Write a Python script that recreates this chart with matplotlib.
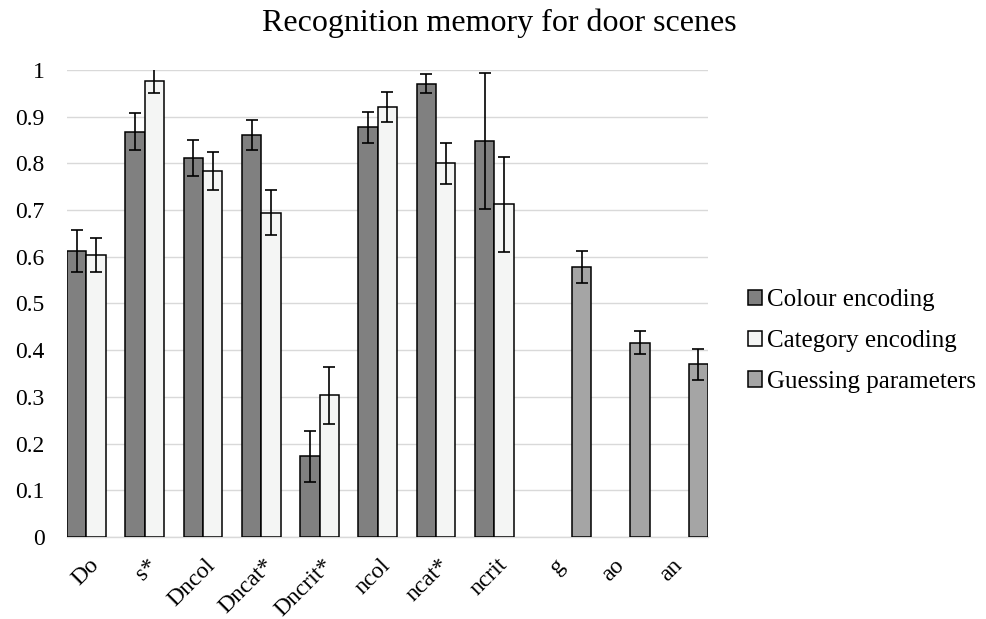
import numpy as np
import matplotlib.pyplot as plt

# values
categories = ['Do', 's*', 'Dncol', 'Dncat*', 'Dncrit*', 'ncol', 'ncat*', 'ncrit', 'g', 'ao', 'an']
colour_enc = [0.613, 0.868, 0.811, 0.861, 0.173, 0.877, 0.971, 0.848]
colour_err = [0.045, 0.039, 0.039, 0.032, 0.055, 0.033, 0.021, 0.146]
category_enc = [0.604, 0.977, 0.784, 0.694, 0.303, 0.921, 0.800, 0.712]
category_err = [0.036, 0.027, 0.040, 0.048, 0.060, 0.032, 0.044, 0.101]
guessing = [0.578, 0.416, 0.370]
guessing_err = [0.034, 0.025, 0.033]

plt.rcParams['font.family'] = ['Liberation Serif', 'DejaVu Serif']

fig = plt.figure(figsize=(9.87, 6.19), dpi=100)
ax = fig.add_axes([0.0679, 0.1325, 0.6494, 0.7544])

x = np.arange(len(categories))
w = 1 / 3
n_enc = len(colour_enc)
err_kw = dict(ecolor='black', elinewidth=1.2, capsize=4.3, capthick=1.2)

ax.bar(x[:n_enc] - w, colour_enc, w, yerr=colour_err, color='#808080',
       edgecolor='black', linewidth=1.1, label='Colour encoding', error_kw=err_kw, zorder=3)
ax.bar(x[:n_enc], category_enc, w, yerr=category_err, color='#f4f5f4',
       edgecolor='black', linewidth=1.1, label='Category encoding', error_kw=err_kw, zorder=3)
ax.bar(x[n_enc:] + w, guessing, w, yerr=guessing_err, color='#a5a5a5',
       edgecolor='black', linewidth=1.1, label='Guessing parameters', error_kw=err_kw, zorder=3)

ax.set_xlim(-0.5, len(categories) - 0.5)
ax.set_ylim(0, 1)
ax.set_yticks(np.arange(0, 1.01, 0.1))
ax.set_yticklabels(['0', '0.1', '0.2', '0.3', '0.4', '0.5', '0.6', '0.7', '0.8', '0.9', '1'])
ax.set_xticks(x)
ax.set_xticklabels(categories, rotation=45, ha='right', va='center', rotation_mode='anchor')
ax.tick_params(axis='both', length=0, labelsize=17)
ax.tick_params(axis='y', pad=16)
ax.tick_params(axis='x', pad=18)
ax.grid(axis='y', color='#d9d9d9', linewidth=1, zorder=0)
for s in ['top', 'right', 'left']:
    ax.spines[s].set_visible(False)
ax.spines['bottom'].set_color('#d9d9d9')
ax.spines['bottom'].set_linewidth(1)

fig.text(0.5056, 0.962, 'Recognition memory for door scenes', ha='center', va='center', fontsize=23)

ax.legend(loc='center left', bbox_to_anchor=(0.748, 0.449), bbox_transform=fig.transFigure,
          frameon=False, fontsize=18, handlelength=0.55, handleheight=0.55,
          handletextpad=0.2, labelspacing=0.75, borderaxespad=0)

fig.savefig('out.png', dpi=100)
